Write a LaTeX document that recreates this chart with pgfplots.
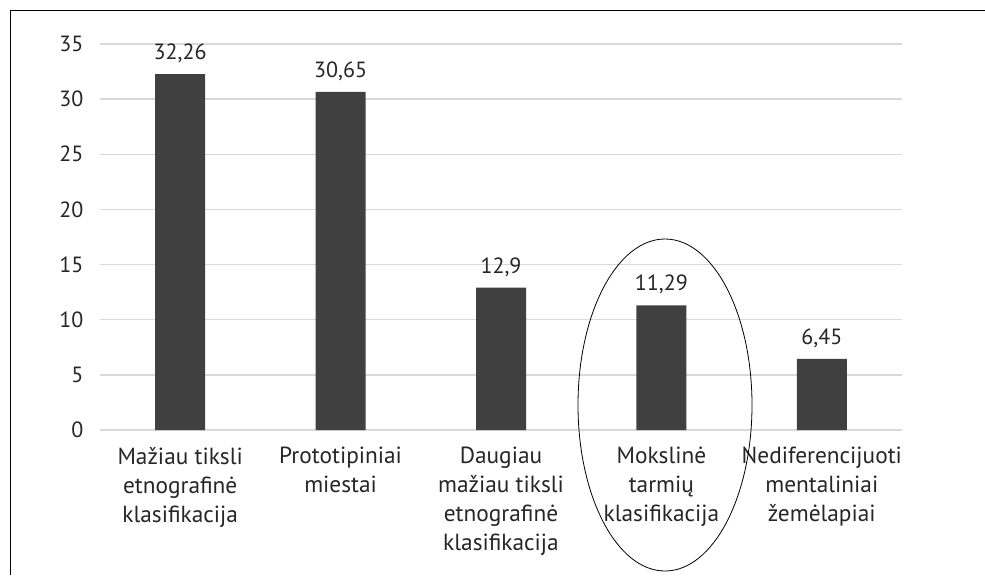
\documentclass[border=0pt]{standalone}
\usepackage{pgfplots}
\pgfplotsset{compat=1.18}
\usepackage{fontspec}
\setmainfont{PT Sans}
\definecolor{bar}{HTML}{404040}
\definecolor{grid}{HTML}{D9D9D9}
\definecolor{txt}{HTML}{262626}
\begin{document}
\begin{tikzpicture}
\useasboundingbox (0,0) rectangle (738.75pt,-431.25pt);
\draw[line width=1pt] (7.8pt,-431.25pt) -- (7.8pt,-7.8pt) -- (738.75pt,-7.8pt);
\begin{axis}[
  at={(75pt,-322.5pt)}, anchor=south west,
  scale only axis, width=601.5pt, height=289.5pt,
  xmin=-0.5, xmax=4.5, ymin=0, ymax=35,
  ytick={0,5,...,35},
  xtick={0,1,2,3,4},
  xticklabels={{Mažiau tiksli\\etnografinė\\klasifikacija},{Prototipiniai\\miestai},{Daugiau\\mažiau tiksli\\etnografinė\\klasifikacija},{Mokslinė\\tarmių\\klasifikacija},{Nediferencijuoti\\mentaliniai\\žemėlapiai}},
  xticklabel style={align=center, font=\fontsize{17.5}{21.75}\selectfont, yshift=-5pt, text=txt},
  yticklabel style={font=\fontsize{16.5}{19.5}\selectfont, xshift=-9pt, text=txt},
  /pgf/number format/assume math mode=true,
  ymajorgrids, grid style={color=grid, line width=1.1pt},
  axis line style={draw=none}, tick style={draw=none},
  ybar, bar width=37.5pt,
  clip=false,
  nodes near coords, point meta=explicit symbolic,
  every node near coord/.append style={font=\fontsize{16.5}{19.5}\selectfont, text=txt, yshift=5pt},
]
\addplot[fill=bar, draw=none] coordinates {(0,32.26)[32,26] (1,30.65)[30,65] (2,12.9)[12,9] (3,11.29)[11,29] (4,6.45)[6,45]};
\end{axis}
\draw[line width=0.6pt] (498.75pt,-303.75pt) ellipse [x radius=65.25pt, y radius=124.5pt];
\end{tikzpicture}
\end{document}
